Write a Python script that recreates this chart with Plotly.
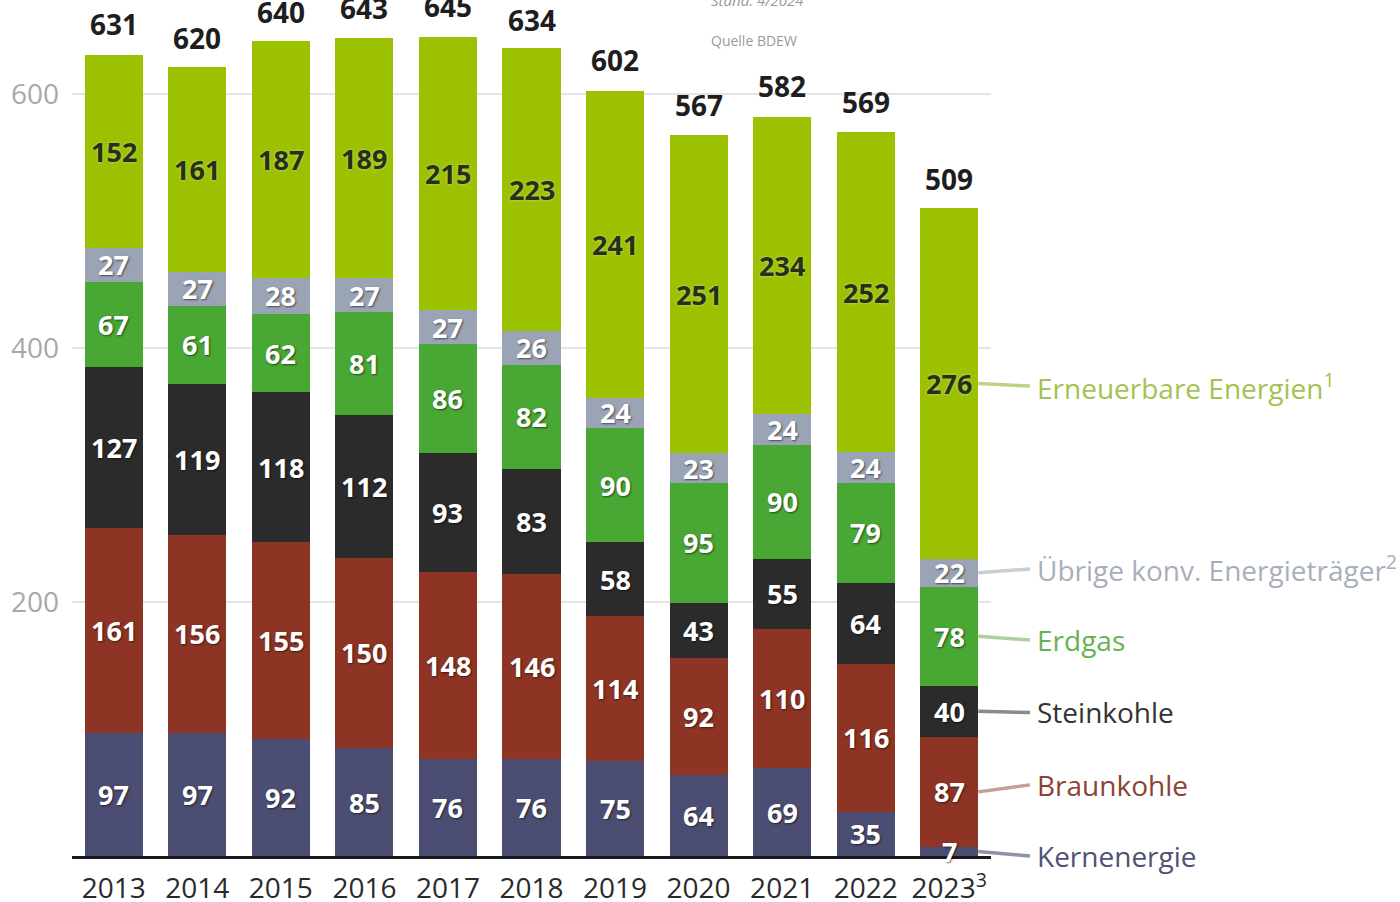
import plotly.graph_objects as go
import numpy as np

# Bruttostromerzeugung in Deutschland nach Energieträgern (TWh)
years = ["2013", "2014", "2015", "2016", "2017", "2018", "2019", "2020", "2021", "2022", "2023"]
year_labels = ["2013", "2014", "2015", "2016", "2017", "2018", "2019", "2020", "2021", "2022", "2023<sup>3</sup>"]

kernenergie = [97, 97, 92, 85, 76, 76, 75, 64, 69, 35, 7]
braunkohle = [161, 156, 155, 150, 148, 146, 114, 92, 110, 116, 87]
steinkohle = [127, 119, 118, 112, 93, 83, 58, 43, 55, 64, 40]
erdgas = [67, 61, 62, 81, 86, 82, 90, 95, 90, 79, 78]
uebrige = [27, 27, 28, 27, 27, 26, 24, 23, 24, 24, 22]
erneuerbare = [152, 161, 187, 189, 215, 223, 241, 251, 234, 252, 276]
gesamt = [631, 620, 640, 643, 645, 634, 602, 567, 582, 569, 509]

series = [
    # name, values, bar colour, value-label colour, legend text colour, connector colour
    ("Kernenergie", kernenergie, "#4b4d72", "white", "#505372", "#8f91a8"),
    ("Braunkohle", braunkohle, "#8d3424", "white", "#8b4433", "#c79d94"),
    ("Steinkohle", steinkohle, "#2b2b2b", "white", "#333333", "#8a8a8a"),
    ("Erdgas", erdgas, "#49a733", "white", "#68b153", "#acd39f"),
    ("Übrige konv. Energieträger<sup>2</sup>", uebrige, "#9aa4b4", "white", "#a7afbb", "#c9ced6"),
    ("Erneuerbare Energien<sup>1</sup>", erneuerbare, "#9cc100", "#263016", "#a2c350", "#bdd582"),
]

YMAX = 674
FONT = "Open Sans"
n = len(years)
xpos = list(range(n))

fig = go.Figure()
base = np.zeros(n)
for name, vals, color, tcol, _, _ in series:
    vals_arr = np.array(vals, dtype=float)
    fig.add_trace(go.Bar(
        x=xpos, y=vals, name=name, marker=dict(color=color, line=dict(width=0)),
        hoverinfo="skip",
    ))
    # Werte mittig im jeweiligen Segment
    shadow = "1px 1px 2px rgba(0,0,0,0.55)" if tcol == "white" else "0px 0px 3px rgba(255,255,255,0.5)"
    for xi, b, v in zip(xpos, base, vals_arr):
        fig.add_annotation(x=xi, y=b + v / 2, text=str(int(v)), showarrow=False,
                           xanchor="center", yanchor="middle",
                           font=dict(family=FONT, size=27, color=tcol, weight="bold", shadow=shadow))
    base = base + vals_arr

# Gesamtwerte über den Säulen
for xi, tot in zip(xpos, gesamt):
    fig.add_annotation(x=xi, y=tot, text=str(tot), showarrow=False, yanchor="bottom",
                       yshift=10, font=dict(family=FONT, size=28, color="#1e1e1e", weight="bold"))

# Beschriftung rechts neben der letzten Säule mit Verbindungslinien
bar_right = (n - 1 + 0.3475 + 0.5) / n
line_end = 1.0424
text_x = 1.048
label_y = [0, 56, 113, 170, 226, 370]
cum = np.zeros(n)
for (name, vals, color, tcol, lcol, ccol), ly in zip(series, label_y):
    mid = cum[-1] + vals[-1] / 2
    cum = cum + np.array(vals)
    fig.add_shape(type="line", xref="paper", yref="paper",
                  x0=bar_right, x1=line_end, y0=mid / YMAX, y1=ly / YMAX,
                  line=dict(color=ccol, width=3.5))
    fig.add_annotation(xref="paper", yref="y", x=text_x, y=ly, text=name, showarrow=False,
                       xanchor="left", yanchor="middle",
                       font=dict(family=FONT, size=28, color=lcol))

# Hinweise oben
fig.add_annotation(xref="paper", yref="paper", x=0.693, y=1.0, text="<i>Stand: 4/2024</i>",
                   showarrow=False, xanchor="left", yanchor="middle",
                   font=dict(family=FONT, size=15, color="#9a9a9a"))
fig.add_annotation(xref="paper", yref="paper", x=0.693, y=1 - 40 / 856, text="Quelle BDEW",
                   showarrow=False, xanchor="left", yanchor="middle",
                   font=dict(family=FONT, size=14, color="#9a9a9a"))

fig.update_layout(
    barmode="stack", bargap=0.305, showlegend=False,
    width=1400, height=902, margin=dict(l=72, r=409, t=0, b=46),
    plot_bgcolor="white", paper_bgcolor="white",
    font=dict(family=FONT),
)
fig.update_xaxes(range=[-0.5, n - 0.5], tickmode="array", tickvals=xpos, ticktext=year_labels,
                 showline=True, linecolor="#1a1a1a", linewidth=2.5, showgrid=False,
                 zeroline=False, ticks="", ticklabelstandoff=6, automargin=False,
                 tickfont=dict(family=FONT, size=28, color="#2a2a2a"))
fig.update_yaxes(range=[0, YMAX], tickvals=[200, 400, 600], showgrid=True,
                 gridcolor="#e4e4e4", gridwidth=1.5, zeroline=False, showline=False,
                 ticks="", ticklabelstandoff=12, automargin=False,
                 tickfont=dict(family=FONT, size=28, color="#a8a8a8"))

fig.write_html("out.html")
